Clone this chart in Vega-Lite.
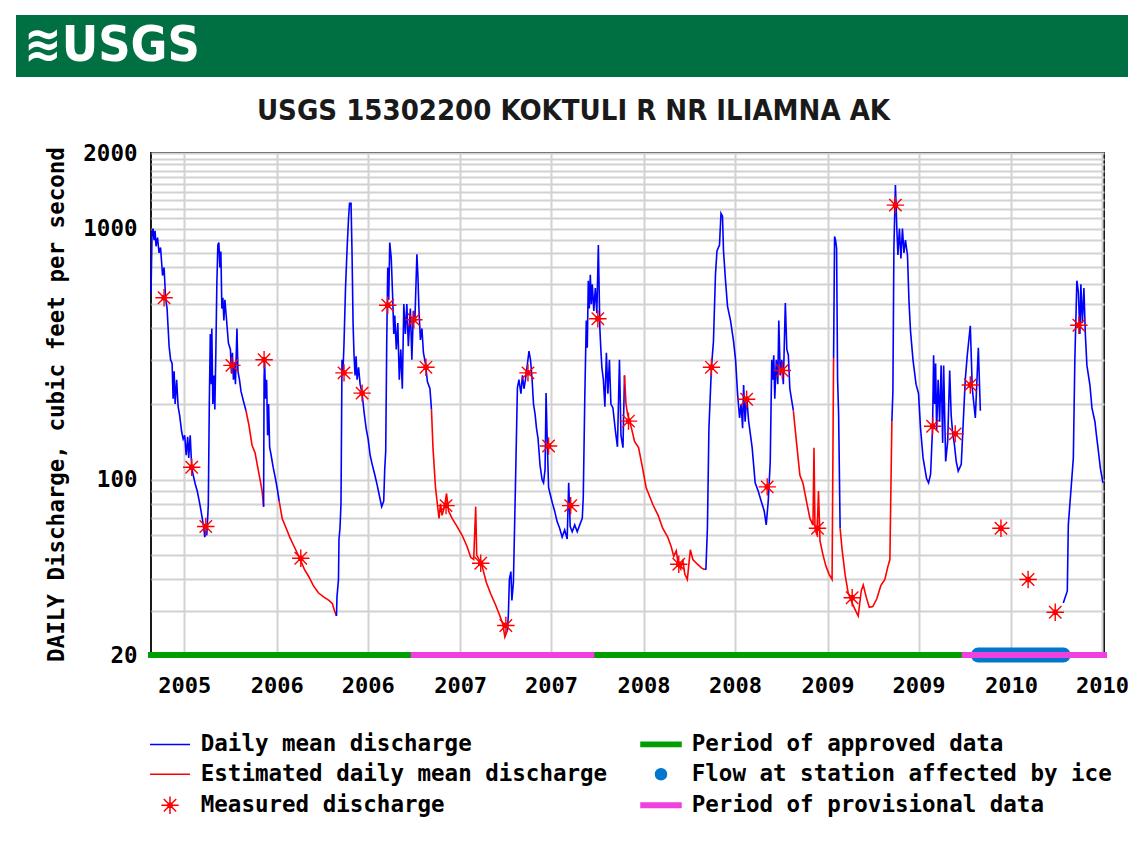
{
  "$schema": "https://vega.github.io/schema/vega-lite/v6.json",
  "padding": {"left": 16, "top": 15, "right": 0, "bottom": 0},
  "background": "#ffffff",
  "spacing": 19,
  "config": {
    "font": "DejaVu Sans Mono",
    "axis": {
      "labelFont": "DejaVu Sans Mono", "labelFontSize": 22.5, "labelFontWeight": "bold", "labelColor": "#000000",
      "titleFont": "DejaVu Sans Mono", "titleFontSize": 22.5, "titleFontWeight": "bold", "titleColor": "#000000",
      "ticks": false, "domain": false, "gridColor": "#d2d2d2", "gridWidth": 2, "gridOpacity": 1
    }
  },
  "datasets": {
    "ice": [{"start": "2009-10-28", "end": "2010-04-15", "series": "Flow at station affected by ice"}],
    "status": [
      {"start": "2005-04-26", "end": "2006-10-01", "series": "Period of approved data"},
      {"start": "2006-10-01", "end": "2007-10-01", "series": "Period of provisional data"},
      {"start": "2007-10-01", "end": "2009-10-01", "series": "Period of approved data"},
      {"start": "2009-10-01", "end": "2010-07-05", "series": "Period of provisional data"}
    ],
    "measured": [
      {"date": "2005-05-22", "cfs": 530, "series": "Measured discharge"},
      {"date": "2005-07-16", "cfs": 112, "series": "Measured discharge"},
      {"date": "2005-08-13", "cfs": 65, "series": "Measured discharge"},
      {"date": "2005-10-04", "cfs": 285, "series": "Measured discharge"},
      {"date": "2005-12-07", "cfs": 300, "series": "Measured discharge"},
      {"date": "2006-02-18", "cfs": 48.6, "series": "Measured discharge"},
      {"date": "2006-05-15", "cfs": 266, "series": "Measured discharge"},
      {"date": "2006-06-20", "cfs": 221, "series": "Measured discharge"},
      {"date": "2006-08-10", "cfs": 495, "series": "Measured discharge"},
      {"date": "2006-10-01", "cfs": 433, "series": "Measured discharge"},
      {"date": "2006-10-25", "cfs": 280, "series": "Measured discharge"},
      {"date": "2006-12-04", "cfs": 78.7, "series": "Measured discharge"},
      {"date": "2007-02-11", "cfs": 46.4, "series": "Measured discharge"},
      {"date": "2007-04-02", "cfs": 26.2, "series": "Measured discharge"},
      {"date": "2007-05-16", "cfs": 266, "series": "Measured discharge"},
      {"date": "2007-06-26", "cfs": 136, "series": "Measured discharge"},
      {"date": "2007-08-09", "cfs": 78.7, "series": "Measured discharge"},
      {"date": "2007-10-02", "cfs": 437, "series": "Measured discharge"},
      {"date": "2007-12-02", "cfs": 171, "series": "Measured discharge"},
      {"date": "2008-03-11", "cfs": 46, "series": "Measured discharge"},
      {"date": "2008-05-15", "cfs": 280, "series": "Measured discharge"},
      {"date": "2008-07-24", "cfs": 209, "series": "Measured discharge"},
      {"date": "2008-09-03", "cfs": 93.5, "series": "Measured discharge"},
      {"date": "2008-10-03", "cfs": 272, "series": "Measured discharge"},
      {"date": "2008-12-12", "cfs": 64, "series": "Measured discharge"},
      {"date": "2009-02-19", "cfs": 33.8, "series": "Measured discharge"},
      {"date": "2009-05-16", "cfs": 1240, "series": "Measured discharge"},
      {"date": "2009-07-29", "cfs": 163, "series": "Measured discharge"},
      {"date": "2009-09-12", "cfs": 152, "series": "Measured discharge"},
      {"date": "2009-10-12", "cfs": 238, "series": "Measured discharge"},
      {"date": "2009-12-12", "cfs": 64, "series": "Measured discharge"},
      {"date": "2010-02-04", "cfs": 40, "series": "Measured discharge"},
      {"date": "2010-03-30", "cfs": 29.6, "series": "Measured discharge"},
      {"date": "2010-05-16", "cfs": 412, "series": "Measured discharge"}
    ],
    "flow": [
      {"date": "2005-04-26", "cfs": 550, "series": "Daily mean discharge", "seg": 1},
      {"date": "2005-04-28", "cfs": 950, "series": "Daily mean discharge", "seg": 1},
      {"date": "2005-04-30", "cfs": 1000, "series": "Daily mean discharge", "seg": 1},
      {"date": "2005-05-02", "cfs": 900, "series": "Daily mean discharge", "seg": 1},
      {"date": "2005-05-04", "cfs": 980, "series": "Daily mean discharge", "seg": 1},
      {"date": "2005-05-06", "cfs": 850, "series": "Daily mean discharge", "seg": 1},
      {"date": "2005-05-09", "cfs": 920, "series": "Daily mean discharge", "seg": 1},
      {"date": "2005-05-12", "cfs": 800, "series": "Daily mean discharge", "seg": 1},
      {"date": "2005-05-15", "cfs": 840, "series": "Daily mean discharge", "seg": 1},
      {"date": "2005-05-19", "cfs": 650, "series": "Daily mean discharge", "seg": 1},
      {"date": "2005-05-22", "cfs": 700, "series": "Daily mean discharge", "seg": 1},
      {"date": "2005-05-25", "cfs": 530, "series": "Daily mean discharge", "seg": 1},
      {"date": "2005-05-28", "cfs": 480, "series": "Daily mean discharge", "seg": 1},
      {"date": "2005-06-01", "cfs": 340, "series": "Daily mean discharge", "seg": 1},
      {"date": "2005-06-04", "cfs": 300, "series": "Daily mean discharge", "seg": 1},
      {"date": "2005-06-07", "cfs": 290, "series": "Daily mean discharge", "seg": 1},
      {"date": "2005-06-09", "cfs": 210, "series": "Daily mean discharge", "seg": 1},
      {"date": "2005-06-11", "cfs": 270, "series": "Daily mean discharge", "seg": 1},
      {"date": "2005-06-13", "cfs": 200, "series": "Daily mean discharge", "seg": 1},
      {"date": "2005-06-16", "cfs": 250, "series": "Daily mean discharge", "seg": 1},
      {"date": "2005-06-19", "cfs": 195, "series": "Daily mean discharge", "seg": 1},
      {"date": "2005-06-22", "cfs": 180, "series": "Daily mean discharge", "seg": 1},
      {"date": "2005-06-26", "cfs": 155, "series": "Daily mean discharge", "seg": 1},
      {"date": "2005-06-29", "cfs": 145, "series": "Daily mean discharge", "seg": 1},
      {"date": "2005-07-02", "cfs": 150, "series": "Daily mean discharge", "seg": 1},
      {"date": "2005-07-05", "cfs": 125, "series": "Daily mean discharge", "seg": 1},
      {"date": "2005-07-08", "cfs": 148, "series": "Daily mean discharge", "seg": 1},
      {"date": "2005-07-10", "cfs": 122, "series": "Daily mean discharge", "seg": 1},
      {"date": "2005-07-13", "cfs": 150, "series": "Daily mean discharge", "seg": 1},
      {"date": "2005-07-16", "cfs": 112, "series": "Daily mean discharge", "seg": 1},
      {"date": "2005-07-19", "cfs": 104, "series": "Daily mean discharge", "seg": 1},
      {"date": "2005-07-23", "cfs": 96, "series": "Daily mean discharge", "seg": 1},
      {"date": "2005-07-27", "cfs": 90, "series": "Daily mean discharge", "seg": 1},
      {"date": "2005-07-31", "cfs": 82, "series": "Daily mean discharge", "seg": 1},
      {"date": "2005-08-03", "cfs": 76, "series": "Daily mean discharge", "seg": 1},
      {"date": "2005-08-06", "cfs": 70, "series": "Daily mean discharge", "seg": 1},
      {"date": "2005-08-09", "cfs": 64, "series": "Daily mean discharge", "seg": 1},
      {"date": "2005-08-11", "cfs": 59, "series": "Daily mean discharge", "seg": 1},
      {"date": "2005-08-13", "cfs": 62, "series": "Daily mean discharge", "seg": 1},
      {"date": "2005-08-15", "cfs": 60, "series": "Daily mean discharge", "seg": 1},
      {"date": "2005-08-18", "cfs": 79, "series": "Daily mean discharge", "seg": 1},
      {"date": "2005-08-20", "cfs": 200, "series": "Daily mean discharge", "seg": 1},
      {"date": "2005-08-22", "cfs": 380, "series": "Daily mean discharge", "seg": 1},
      {"date": "2005-08-24", "cfs": 240, "series": "Daily mean discharge", "seg": 1},
      {"date": "2005-08-25", "cfs": 400, "series": "Daily mean discharge", "seg": 1},
      {"date": "2005-08-27", "cfs": 200, "series": "Daily mean discharge", "seg": 1},
      {"date": "2005-08-29", "cfs": 260, "series": "Daily mean discharge", "seg": 1},
      {"date": "2005-08-31", "cfs": 190, "series": "Daily mean discharge", "seg": 1},
      {"date": "2005-09-02", "cfs": 320, "series": "Daily mean discharge", "seg": 1},
      {"date": "2005-09-04", "cfs": 600, "series": "Daily mean discharge", "seg": 1},
      {"date": "2005-09-06", "cfs": 860, "series": "Daily mean discharge", "seg": 1},
      {"date": "2005-09-08", "cfs": 880, "series": "Daily mean discharge", "seg": 1},
      {"date": "2005-09-10", "cfs": 700, "series": "Daily mean discharge", "seg": 1},
      {"date": "2005-09-12", "cfs": 810, "series": "Daily mean discharge", "seg": 1},
      {"date": "2005-09-14", "cfs": 480, "series": "Daily mean discharge", "seg": 1},
      {"date": "2005-09-16", "cfs": 530, "series": "Daily mean discharge", "seg": 1},
      {"date": "2005-09-18", "cfs": 430, "series": "Daily mean discharge", "seg": 1},
      {"date": "2005-09-20", "cfs": 520, "series": "Daily mean discharge", "seg": 1},
      {"date": "2005-09-23", "cfs": 440, "series": "Daily mean discharge", "seg": 1},
      {"date": "2005-09-27", "cfs": 350, "series": "Daily mean discharge", "seg": 1},
      {"date": "2005-10-01", "cfs": 330, "series": "Daily mean discharge", "seg": 1},
      {"date": "2005-10-03", "cfs": 265, "series": "Daily mean discharge", "seg": 1},
      {"date": "2005-10-05", "cfs": 320, "series": "Daily mean discharge", "seg": 1},
      {"date": "2005-10-07", "cfs": 250, "series": "Daily mean discharge", "seg": 1},
      {"date": "2005-10-09", "cfs": 290, "series": "Daily mean discharge", "seg": 1},
      {"date": "2005-10-11", "cfs": 240, "series": "Daily mean discharge", "seg": 1},
      {"date": "2005-10-14", "cfs": 400, "series": "Daily mean discharge", "seg": 1},
      {"date": "2005-10-16", "cfs": 270, "series": "Daily mean discharge", "seg": 1},
      {"date": "2005-10-19", "cfs": 250, "series": "Daily mean discharge", "seg": 1},
      {"date": "2005-10-22", "cfs": 225, "series": "Daily mean discharge", "seg": 1},
      {"date": "2005-10-27", "cfs": 205, "series": "Daily mean discharge", "seg": 1},
      {"date": "2005-11-01", "cfs": 188, "series": "Daily mean discharge", "seg": 1},

      {"date": "2005-11-01", "cfs": 188, "series": "Estimated daily mean discharge", "seg": 2},
      {"date": "2005-11-07", "cfs": 164, "series": "Estimated daily mean discharge", "seg": 2},
      {"date": "2005-11-13", "cfs": 137, "series": "Estimated daily mean discharge", "seg": 2},
      {"date": "2005-11-19", "cfs": 128, "series": "Estimated daily mean discharge", "seg": 2},
      {"date": "2005-11-25", "cfs": 110, "series": "Estimated daily mean discharge", "seg": 2},
      {"date": "2005-11-29", "cfs": 100, "series": "Estimated daily mean discharge", "seg": 2},
      {"date": "2005-12-03", "cfs": 90, "series": "Estimated daily mean discharge", "seg": 2},
      {"date": "2005-12-06", "cfs": 78, "series": "Estimated daily mean discharge", "seg": 2},

      {"date": "2005-12-06", "cfs": 78, "series": "Daily mean discharge", "seg": 3},
      {"date": "2005-12-07", "cfs": 254, "series": "Daily mean discharge", "seg": 3},
      {"date": "2005-12-08", "cfs": 300, "series": "Daily mean discharge", "seg": 3},
      {"date": "2005-12-10", "cfs": 210, "series": "Daily mean discharge", "seg": 3},
      {"date": "2005-12-12", "cfs": 250, "series": "Daily mean discharge", "seg": 3},
      {"date": "2005-12-14", "cfs": 150, "series": "Daily mean discharge", "seg": 3},
      {"date": "2005-12-16", "cfs": 200, "series": "Daily mean discharge", "seg": 3},
      {"date": "2005-12-18", "cfs": 135, "series": "Daily mean discharge", "seg": 3},
      {"date": "2005-12-21", "cfs": 125, "series": "Daily mean discharge", "seg": 3},
      {"date": "2005-12-25", "cfs": 112, "series": "Daily mean discharge", "seg": 3},
      {"date": "2005-12-30", "cfs": 100, "series": "Daily mean discharge", "seg": 3},
      {"date": "2006-01-03", "cfs": 90, "series": "Daily mean discharge", "seg": 3},
      {"date": "2006-01-06", "cfs": 82, "series": "Daily mean discharge", "seg": 3},

      {"date": "2006-01-06", "cfs": 82, "series": "Estimated daily mean discharge", "seg": 4},
      {"date": "2006-01-12", "cfs": 70, "series": "Estimated daily mean discharge", "seg": 4},
      {"date": "2006-01-20", "cfs": 64, "series": "Estimated daily mean discharge", "seg": 4},
      {"date": "2006-01-27", "cfs": 59, "series": "Estimated daily mean discharge", "seg": 4},
      {"date": "2006-02-05", "cfs": 54, "series": "Estimated daily mean discharge", "seg": 4},
      {"date": "2006-02-15", "cfs": 49, "series": "Estimated daily mean discharge", "seg": 4},
      {"date": "2006-02-25", "cfs": 44, "series": "Estimated daily mean discharge", "seg": 4},
      {"date": "2006-03-06", "cfs": 41, "series": "Estimated daily mean discharge", "seg": 4},
      {"date": "2006-03-15", "cfs": 37.8, "series": "Estimated daily mean discharge", "seg": 4},
      {"date": "2006-03-25", "cfs": 35.4, "series": "Estimated daily mean discharge", "seg": 4},
      {"date": "2006-04-05", "cfs": 34, "series": "Estimated daily mean discharge", "seg": 4},
      {"date": "2006-04-15", "cfs": 33, "series": "Estimated daily mean discharge", "seg": 4},
      {"date": "2006-04-22", "cfs": 32, "series": "Estimated daily mean discharge", "seg": 4},
      {"date": "2006-04-26", "cfs": 30, "series": "Estimated daily mean discharge", "seg": 4},
      {"date": "2006-04-30", "cfs": 28.6, "series": "Estimated daily mean discharge", "seg": 4},

      {"date": "2006-04-30", "cfs": 28.6, "series": "Daily mean discharge", "seg": 5},
      {"date": "2006-05-01", "cfs": 34, "series": "Daily mean discharge", "seg": 5},
      {"date": "2006-05-04", "cfs": 40, "series": "Daily mean discharge", "seg": 5},
      {"date": "2006-05-05", "cfs": 58, "series": "Daily mean discharge", "seg": 5},
      {"date": "2006-05-07", "cfs": 64, "series": "Daily mean discharge", "seg": 5},
      {"date": "2006-05-09", "cfs": 80, "series": "Daily mean discharge", "seg": 5},
      {"date": "2006-05-11", "cfs": 300, "series": "Daily mean discharge", "seg": 5},
      {"date": "2006-05-13", "cfs": 270, "series": "Daily mean discharge", "seg": 5},
      {"date": "2006-05-15", "cfs": 350, "series": "Daily mean discharge", "seg": 5},
      {"date": "2006-05-18", "cfs": 580, "series": "Daily mean discharge", "seg": 5},
      {"date": "2006-05-21", "cfs": 820, "series": "Daily mean discharge", "seg": 5},
      {"date": "2006-05-24", "cfs": 1100, "series": "Daily mean discharge", "seg": 5},
      {"date": "2006-05-26", "cfs": 1260, "series": "Daily mean discharge", "seg": 5},
      {"date": "2006-05-29", "cfs": 1260, "series": "Daily mean discharge", "seg": 5},
      {"date": "2006-05-31", "cfs": 790, "series": "Daily mean discharge", "seg": 5},
      {"date": "2006-06-02", "cfs": 420, "series": "Daily mean discharge", "seg": 5},
      {"date": "2006-06-04", "cfs": 310, "series": "Daily mean discharge", "seg": 5},
      {"date": "2006-06-06", "cfs": 260, "series": "Daily mean discharge", "seg": 5},
      {"date": "2006-06-08", "cfs": 310, "series": "Daily mean discharge", "seg": 5},
      {"date": "2006-06-10", "cfs": 250, "series": "Daily mean discharge", "seg": 5},
      {"date": "2006-06-13", "cfs": 280, "series": "Daily mean discharge", "seg": 5},
      {"date": "2006-06-16", "cfs": 240, "series": "Daily mean discharge", "seg": 5},
      {"date": "2006-06-20", "cfs": 220, "series": "Daily mean discharge", "seg": 5},
      {"date": "2006-06-24", "cfs": 185, "series": "Daily mean discharge", "seg": 5},
      {"date": "2006-06-28", "cfs": 160, "series": "Daily mean discharge", "seg": 5},
      {"date": "2006-07-02", "cfs": 145, "series": "Daily mean discharge", "seg": 5},
      {"date": "2006-07-06", "cfs": 125, "series": "Daily mean discharge", "seg": 5},
      {"date": "2006-07-10", "cfs": 115, "series": "Daily mean discharge", "seg": 5},
      {"date": "2006-07-15", "cfs": 105, "series": "Daily mean discharge", "seg": 5},
      {"date": "2006-07-20", "cfs": 95, "series": "Daily mean discharge", "seg": 5},
      {"date": "2006-07-25", "cfs": 85, "series": "Daily mean discharge", "seg": 5},
      {"date": "2006-07-29", "cfs": 78, "series": "Daily mean discharge", "seg": 5},
      {"date": "2006-08-02", "cfs": 82, "series": "Daily mean discharge", "seg": 5},
      {"date": "2006-08-04", "cfs": 110, "series": "Daily mean discharge", "seg": 5},
      {"date": "2006-08-06", "cfs": 130, "series": "Daily mean discharge", "seg": 5},
      {"date": "2006-08-08", "cfs": 355, "series": "Daily mean discharge", "seg": 5},
      {"date": "2006-08-10", "cfs": 700, "series": "Daily mean discharge", "seg": 5},
      {"date": "2006-08-12", "cfs": 520, "series": "Daily mean discharge", "seg": 5},
      {"date": "2006-08-14", "cfs": 880, "series": "Daily mean discharge", "seg": 5},
      {"date": "2006-08-17", "cfs": 760, "series": "Daily mean discharge", "seg": 5},
      {"date": "2006-08-20", "cfs": 520, "series": "Daily mean discharge", "seg": 5},
      {"date": "2006-08-22", "cfs": 380, "series": "Daily mean discharge", "seg": 5},
      {"date": "2006-08-24", "cfs": 450, "series": "Daily mean discharge", "seg": 5},
      {"date": "2006-08-27", "cfs": 330, "series": "Daily mean discharge", "seg": 5},
      {"date": "2006-08-30", "cfs": 420, "series": "Daily mean discharge", "seg": 5},
      {"date": "2006-09-02", "cfs": 250, "series": "Daily mean discharge", "seg": 5},
      {"date": "2006-09-05", "cfs": 330, "series": "Daily mean discharge", "seg": 5},
      {"date": "2006-09-08", "cfs": 230, "series": "Daily mean discharge", "seg": 5},
      {"date": "2006-09-11", "cfs": 500, "series": "Daily mean discharge", "seg": 5},
      {"date": "2006-09-14", "cfs": 380, "series": "Daily mean discharge", "seg": 5},
      {"date": "2006-09-17", "cfs": 500, "series": "Daily mean discharge", "seg": 5},
      {"date": "2006-09-20", "cfs": 340, "series": "Daily mean discharge", "seg": 5},
      {"date": "2006-09-24", "cfs": 480, "series": "Daily mean discharge", "seg": 5},
      {"date": "2006-09-27", "cfs": 300, "series": "Daily mean discharge", "seg": 5},
      {"date": "2006-09-30", "cfs": 470, "series": "Daily mean discharge", "seg": 5},
      {"date": "2006-10-03", "cfs": 430, "series": "Daily mean discharge", "seg": 5},
      {"date": "2006-10-07", "cfs": 790, "series": "Daily mean discharge", "seg": 5},
      {"date": "2006-10-09", "cfs": 650, "series": "Daily mean discharge", "seg": 5},
      {"date": "2006-10-11", "cfs": 480, "series": "Daily mean discharge", "seg": 5},
      {"date": "2006-10-14", "cfs": 360, "series": "Daily mean discharge", "seg": 5},
      {"date": "2006-10-17", "cfs": 400, "series": "Daily mean discharge", "seg": 5},
      {"date": "2006-10-20", "cfs": 320, "series": "Daily mean discharge", "seg": 5},
      {"date": "2006-10-24", "cfs": 290, "series": "Daily mean discharge", "seg": 5},
      {"date": "2006-10-28", "cfs": 245, "series": "Daily mean discharge", "seg": 5},
      {"date": "2006-11-02", "cfs": 230, "series": "Daily mean discharge", "seg": 5},
      {"date": "2006-11-05", "cfs": 190, "series": "Daily mean discharge", "seg": 5},

      {"date": "2006-11-05", "cfs": 190, "series": "Estimated daily mean discharge", "seg": 6},
      {"date": "2006-11-08", "cfs": 134, "series": "Estimated daily mean discharge", "seg": 6},
      {"date": "2006-11-13", "cfs": 93, "series": "Estimated daily mean discharge", "seg": 6},
      {"date": "2006-11-17", "cfs": 79, "series": "Estimated daily mean discharge", "seg": 6},
      {"date": "2006-11-20", "cfs": 70, "series": "Estimated daily mean discharge", "seg": 6},
      {"date": "2006-11-23", "cfs": 80, "series": "Estimated daily mean discharge", "seg": 6},
      {"date": "2006-11-26", "cfs": 72, "series": "Estimated daily mean discharge", "seg": 6},
      {"date": "2006-12-01", "cfs": 78, "series": "Estimated daily mean discharge", "seg": 6},
      {"date": "2006-12-05", "cfs": 88, "series": "Estimated daily mean discharge", "seg": 6},
      {"date": "2006-12-09", "cfs": 75, "series": "Estimated daily mean discharge", "seg": 6},
      {"date": "2006-12-16", "cfs": 70, "series": "Estimated daily mean discharge", "seg": 6},
      {"date": "2006-12-24", "cfs": 66, "series": "Estimated daily mean discharge", "seg": 6},
      {"date": "2007-01-05", "cfs": 60, "series": "Estimated daily mean discharge", "seg": 6},
      {"date": "2007-01-15", "cfs": 54, "series": "Estimated daily mean discharge", "seg": 6},
      {"date": "2007-01-22", "cfs": 49, "series": "Estimated daily mean discharge", "seg": 6},
      {"date": "2007-01-28", "cfs": 48, "series": "Estimated daily mean discharge", "seg": 6},
      {"date": "2007-02-01", "cfs": 78, "series": "Estimated daily mean discharge", "seg": 6},
      {"date": "2007-02-03", "cfs": 50, "series": "Estimated daily mean discharge", "seg": 6},
      {"date": "2007-02-08", "cfs": 48, "series": "Estimated daily mean discharge", "seg": 6},
      {"date": "2007-02-14", "cfs": 45, "series": "Estimated daily mean discharge", "seg": 6},
      {"date": "2007-02-22", "cfs": 39, "series": "Estimated daily mean discharge", "seg": 6},
      {"date": "2007-03-03", "cfs": 35, "series": "Estimated daily mean discharge", "seg": 6},
      {"date": "2007-03-13", "cfs": 31.5, "series": "Estimated daily mean discharge", "seg": 6},
      {"date": "2007-03-20", "cfs": 29, "series": "Estimated daily mean discharge", "seg": 6},
      {"date": "2007-03-27", "cfs": 26.5, "series": "Estimated daily mean discharge", "seg": 6},
      {"date": "2007-03-31", "cfs": 23.6, "series": "Estimated daily mean discharge", "seg": 6},
      {"date": "2007-04-05", "cfs": 25, "series": "Estimated daily mean discharge", "seg": 6},

      {"date": "2007-04-05", "cfs": 25, "series": "Daily mean discharge", "seg": 7},
      {"date": "2007-04-07", "cfs": 29, "series": "Daily mean discharge", "seg": 7},
      {"date": "2007-04-09", "cfs": 40, "series": "Daily mean discharge", "seg": 7},
      {"date": "2007-04-12", "cfs": 43, "series": "Daily mean discharge", "seg": 7},
      {"date": "2007-04-14", "cfs": 33, "series": "Daily mean discharge", "seg": 7},
      {"date": "2007-04-17", "cfs": 39, "series": "Daily mean discharge", "seg": 7},
      {"date": "2007-04-21", "cfs": 93, "series": "Daily mean discharge", "seg": 7},
      {"date": "2007-04-25", "cfs": 232, "series": "Daily mean discharge", "seg": 7},
      {"date": "2007-04-28", "cfs": 250, "series": "Daily mean discharge", "seg": 7},
      {"date": "2007-05-02", "cfs": 220, "series": "Daily mean discharge", "seg": 7},
      {"date": "2007-05-05", "cfs": 260, "series": "Daily mean discharge", "seg": 7},
      {"date": "2007-05-08", "cfs": 230, "series": "Daily mean discharge", "seg": 7},
      {"date": "2007-05-11", "cfs": 250, "series": "Daily mean discharge", "seg": 7},
      {"date": "2007-05-15", "cfs": 290, "series": "Daily mean discharge", "seg": 7},
      {"date": "2007-05-18", "cfs": 325, "series": "Daily mean discharge", "seg": 7},
      {"date": "2007-05-21", "cfs": 300, "series": "Daily mean discharge", "seg": 7},
      {"date": "2007-05-24", "cfs": 254, "series": "Daily mean discharge", "seg": 7},
      {"date": "2007-05-27", "cfs": 200, "series": "Daily mean discharge", "seg": 7},
      {"date": "2007-05-30", "cfs": 183, "series": "Daily mean discharge", "seg": 7},
      {"date": "2007-06-02", "cfs": 160, "series": "Daily mean discharge", "seg": 7},
      {"date": "2007-06-05", "cfs": 146, "series": "Daily mean discharge", "seg": 7},
      {"date": "2007-06-09", "cfs": 114, "series": "Daily mean discharge", "seg": 7},
      {"date": "2007-06-13", "cfs": 100, "series": "Daily mean discharge", "seg": 7},
      {"date": "2007-06-16", "cfs": 97, "series": "Daily mean discharge", "seg": 7},
      {"date": "2007-06-19", "cfs": 110, "series": "Daily mean discharge", "seg": 7},
      {"date": "2007-06-21", "cfs": 221, "series": "Daily mean discharge", "seg": 7},
      {"date": "2007-06-23", "cfs": 150, "series": "Daily mean discharge", "seg": 7},
      {"date": "2007-06-26", "cfs": 93, "series": "Daily mean discharge", "seg": 7},
      {"date": "2007-06-30", "cfs": 86, "series": "Daily mean discharge", "seg": 7},
      {"date": "2007-07-04", "cfs": 80, "series": "Daily mean discharge", "seg": 7},
      {"date": "2007-07-08", "cfs": 75, "series": "Daily mean discharge", "seg": 7},
      {"date": "2007-07-13", "cfs": 68, "series": "Daily mean discharge", "seg": 7},
      {"date": "2007-07-18", "cfs": 64, "series": "Daily mean discharge", "seg": 7},
      {"date": "2007-07-23", "cfs": 59, "series": "Daily mean discharge", "seg": 7},
      {"date": "2007-07-28", "cfs": 63, "series": "Daily mean discharge", "seg": 7},
      {"date": "2007-08-02", "cfs": 58, "series": "Daily mean discharge", "seg": 7},
      {"date": "2007-08-05", "cfs": 97, "series": "Daily mean discharge", "seg": 7},
      {"date": "2007-08-08", "cfs": 65, "series": "Daily mean discharge", "seg": 7},
      {"date": "2007-08-12", "cfs": 62, "series": "Daily mean discharge", "seg": 7},
      {"date": "2007-08-17", "cfs": 66, "series": "Daily mean discharge", "seg": 7},
      {"date": "2007-08-22", "cfs": 62, "series": "Daily mean discharge", "seg": 7},
      {"date": "2007-08-27", "cfs": 66, "series": "Daily mean discharge", "seg": 7},
      {"date": "2007-09-01", "cfs": 70, "series": "Daily mean discharge", "seg": 7},
      {"date": "2007-09-03", "cfs": 85, "series": "Daily mean discharge", "seg": 7},
      {"date": "2007-09-06", "cfs": 211, "series": "Daily mean discharge", "seg": 7},
      {"date": "2007-09-09", "cfs": 430, "series": "Daily mean discharge", "seg": 7},
      {"date": "2007-09-11", "cfs": 335, "series": "Daily mean discharge", "seg": 7},
      {"date": "2007-09-13", "cfs": 620, "series": "Daily mean discharge", "seg": 7},
      {"date": "2007-09-15", "cfs": 480, "series": "Daily mean discharge", "seg": 7},
      {"date": "2007-09-17", "cfs": 655, "series": "Daily mean discharge", "seg": 7},
      {"date": "2007-09-19", "cfs": 500, "series": "Daily mean discharge", "seg": 7},
      {"date": "2007-09-21", "cfs": 600, "series": "Daily mean discharge", "seg": 7},
      {"date": "2007-09-24", "cfs": 470, "series": "Daily mean discharge", "seg": 7},
      {"date": "2007-09-27", "cfs": 580, "series": "Daily mean discharge", "seg": 7},
      {"date": "2007-09-30", "cfs": 460, "series": "Daily mean discharge", "seg": 7},
      {"date": "2007-10-03", "cfs": 860, "series": "Daily mean discharge", "seg": 7},
      {"date": "2007-10-06", "cfs": 400, "series": "Daily mean discharge", "seg": 7},
      {"date": "2007-10-08", "cfs": 330, "series": "Daily mean discharge", "seg": 7},
      {"date": "2007-10-10", "cfs": 280, "series": "Daily mean discharge", "seg": 7},
      {"date": "2007-10-13", "cfs": 250, "series": "Daily mean discharge", "seg": 7},
      {"date": "2007-10-16", "cfs": 195, "series": "Daily mean discharge", "seg": 7},
      {"date": "2007-10-19", "cfs": 320, "series": "Daily mean discharge", "seg": 7},
      {"date": "2007-10-22", "cfs": 220, "series": "Daily mean discharge", "seg": 7},
      {"date": "2007-10-25", "cfs": 300, "series": "Daily mean discharge", "seg": 7},
      {"date": "2007-10-28", "cfs": 200, "series": "Daily mean discharge", "seg": 7},
      {"date": "2007-11-01", "cfs": 193, "series": "Daily mean discharge", "seg": 7},
      {"date": "2007-11-06", "cfs": 156, "series": "Daily mean discharge", "seg": 7},
      {"date": "2007-11-10", "cfs": 135, "series": "Daily mean discharge", "seg": 7},
      {"date": "2007-11-14", "cfs": 300, "series": "Daily mean discharge", "seg": 7},
      {"date": "2007-11-17", "cfs": 150, "series": "Daily mean discharge", "seg": 7},
      {"date": "2007-11-21", "cfs": 134, "series": "Daily mean discharge", "seg": 7},
      {"date": "2007-11-24", "cfs": 260, "series": "Daily mean discharge", "seg": 7},

      {"date": "2007-11-24", "cfs": 260, "series": "Estimated daily mean discharge", "seg": 8},
      {"date": "2007-11-27", "cfs": 200, "series": "Estimated daily mean discharge", "seg": 8},
      {"date": "2007-11-30", "cfs": 183, "series": "Estimated daily mean discharge", "seg": 8},
      {"date": "2007-12-04", "cfs": 171, "series": "Estimated daily mean discharge", "seg": 8},
      {"date": "2007-12-08", "cfs": 160, "series": "Estimated daily mean discharge", "seg": 8},
      {"date": "2007-12-14", "cfs": 142, "series": "Estimated daily mean discharge", "seg": 8},
      {"date": "2007-12-22", "cfs": 134, "series": "Estimated daily mean discharge", "seg": 8},
      {"date": "2007-12-30", "cfs": 111, "series": "Estimated daily mean discharge", "seg": 8},
      {"date": "2008-01-06", "cfs": 93, "series": "Estimated daily mean discharge", "seg": 8},
      {"date": "2008-01-20", "cfs": 79, "series": "Estimated daily mean discharge", "seg": 8},
      {"date": "2008-01-30", "cfs": 72, "series": "Estimated daily mean discharge", "seg": 8},
      {"date": "2008-02-08", "cfs": 64, "series": "Estimated daily mean discharge", "seg": 8},
      {"date": "2008-02-18", "cfs": 59, "series": "Estimated daily mean discharge", "seg": 8},
      {"date": "2008-02-25", "cfs": 54, "series": "Estimated daily mean discharge", "seg": 8},
      {"date": "2008-03-01", "cfs": 49.4, "series": "Estimated daily mean discharge", "seg": 8},
      {"date": "2008-03-06", "cfs": 52, "series": "Estimated daily mean discharge", "seg": 8},
      {"date": "2008-03-10", "cfs": 46, "series": "Estimated daily mean discharge", "seg": 8},
      {"date": "2008-03-15", "cfs": 44, "series": "Estimated daily mean discharge", "seg": 8},
      {"date": "2008-03-19", "cfs": 48, "series": "Estimated daily mean discharge", "seg": 8},
      {"date": "2008-03-23", "cfs": 42, "series": "Estimated daily mean discharge", "seg": 8},
      {"date": "2008-03-28", "cfs": 40, "series": "Estimated daily mean discharge", "seg": 8},
      {"date": "2008-04-03", "cfs": 52.5, "series": "Estimated daily mean discharge", "seg": 8},
      {"date": "2008-04-08", "cfs": 48, "series": "Estimated daily mean discharge", "seg": 8},
      {"date": "2008-04-17", "cfs": 46, "series": "Estimated daily mean discharge", "seg": 8},
      {"date": "2008-04-25", "cfs": 44.5, "series": "Estimated daily mean discharge", "seg": 8},
      {"date": "2008-05-01", "cfs": 43.8, "series": "Estimated daily mean discharge", "seg": 8},

      {"date": "2008-05-01", "cfs": 43.8, "series": "Daily mean discharge", "seg": 9},
      {"date": "2008-05-04", "cfs": 44, "series": "Daily mean discharge", "seg": 9},
      {"date": "2008-05-07", "cfs": 64, "series": "Daily mean discharge", "seg": 9},
      {"date": "2008-05-10", "cfs": 160, "series": "Daily mean discharge", "seg": 9},
      {"date": "2008-05-15", "cfs": 280, "series": "Daily mean discharge", "seg": 9},
      {"date": "2008-05-19", "cfs": 355, "series": "Daily mean discharge", "seg": 9},
      {"date": "2008-05-23", "cfs": 655, "series": "Daily mean discharge", "seg": 9},
      {"date": "2008-05-26", "cfs": 815, "series": "Daily mean discharge", "seg": 9},
      {"date": "2008-05-31", "cfs": 860, "series": "Daily mean discharge", "seg": 9},
      {"date": "2008-06-03", "cfs": 1150, "series": "Daily mean discharge", "seg": 9},
      {"date": "2008-06-06", "cfs": 1120, "series": "Daily mean discharge", "seg": 9},
      {"date": "2008-06-08", "cfs": 815, "series": "Daily mean discharge", "seg": 9},
      {"date": "2008-06-12", "cfs": 620, "series": "Daily mean discharge", "seg": 9},
      {"date": "2008-06-16", "cfs": 490, "series": "Daily mean discharge", "seg": 9},
      {"date": "2008-06-22", "cfs": 430, "series": "Daily mean discharge", "seg": 9},
      {"date": "2008-06-28", "cfs": 355, "series": "Daily mean discharge", "seg": 9},
      {"date": "2008-07-02", "cfs": 300, "series": "Daily mean discharge", "seg": 9},
      {"date": "2008-07-06", "cfs": 220, "series": "Daily mean discharge", "seg": 9},
      {"date": "2008-07-10", "cfs": 176, "series": "Daily mean discharge", "seg": 9},
      {"date": "2008-07-13", "cfs": 200, "series": "Daily mean discharge", "seg": 9},
      {"date": "2008-07-16", "cfs": 160, "series": "Daily mean discharge", "seg": 9},
      {"date": "2008-07-18", "cfs": 238, "series": "Daily mean discharge", "seg": 9},
      {"date": "2008-07-21", "cfs": 170, "series": "Daily mean discharge", "seg": 9},
      {"date": "2008-07-24", "cfs": 215, "series": "Daily mean discharge", "seg": 9},
      {"date": "2008-07-28", "cfs": 171, "series": "Daily mean discharge", "seg": 9},
      {"date": "2008-08-04", "cfs": 134, "series": "Daily mean discharge", "seg": 9},
      {"date": "2008-08-10", "cfs": 97, "series": "Daily mean discharge", "seg": 9},
      {"date": "2008-08-16", "cfs": 90, "series": "Daily mean discharge", "seg": 9},
      {"date": "2008-08-22", "cfs": 82, "series": "Daily mean discharge", "seg": 9},
      {"date": "2008-08-28", "cfs": 75, "series": "Daily mean discharge", "seg": 9},
      {"date": "2008-09-01", "cfs": 66, "series": "Daily mean discharge", "seg": 9},
      {"date": "2008-09-05", "cfs": 82, "series": "Daily mean discharge", "seg": 9},
      {"date": "2008-09-09", "cfs": 118, "series": "Daily mean discharge", "seg": 9},
      {"date": "2008-09-12", "cfs": 300, "series": "Daily mean discharge", "seg": 9},
      {"date": "2008-09-14", "cfs": 250, "series": "Daily mean discharge", "seg": 9},
      {"date": "2008-09-16", "cfs": 313, "series": "Daily mean discharge", "seg": 9},
      {"date": "2008-09-18", "cfs": 210, "series": "Daily mean discharge", "seg": 9},
      {"date": "2008-09-21", "cfs": 300, "series": "Daily mean discharge", "seg": 9},
      {"date": "2008-09-24", "cfs": 240, "series": "Daily mean discharge", "seg": 9},
      {"date": "2008-09-26", "cfs": 430, "series": "Daily mean discharge", "seg": 9},
      {"date": "2008-09-29", "cfs": 260, "series": "Daily mean discharge", "seg": 9},
      {"date": "2008-10-02", "cfs": 300, "series": "Daily mean discharge", "seg": 9},
      {"date": "2008-10-05", "cfs": 240, "series": "Daily mean discharge", "seg": 9},
      {"date": "2008-10-09", "cfs": 505, "series": "Daily mean discharge", "seg": 9},
      {"date": "2008-10-12", "cfs": 330, "series": "Daily mean discharge", "seg": 9},
      {"date": "2008-10-15", "cfs": 313, "series": "Daily mean discharge", "seg": 9},
      {"date": "2008-10-18", "cfs": 230, "series": "Daily mean discharge", "seg": 9},
      {"date": "2008-10-22", "cfs": 205, "series": "Daily mean discharge", "seg": 9},
      {"date": "2008-10-25", "cfs": 188, "series": "Daily mean discharge", "seg": 9},

      {"date": "2008-10-25", "cfs": 188, "series": "Estimated daily mean discharge", "seg": 10},
      {"date": "2008-10-31", "cfs": 142, "series": "Estimated daily mean discharge", "seg": 10},
      {"date": "2008-11-07", "cfs": 104, "series": "Estimated daily mean discharge", "seg": 10},
      {"date": "2008-11-13", "cfs": 97, "series": "Estimated daily mean discharge", "seg": 10},
      {"date": "2008-11-20", "cfs": 82, "series": "Estimated daily mean discharge", "seg": 10},
      {"date": "2008-11-27", "cfs": 70, "series": "Estimated daily mean discharge", "seg": 10},
      {"date": "2008-12-03", "cfs": 66, "series": "Estimated daily mean discharge", "seg": 10},
      {"date": "2008-12-05", "cfs": 134, "series": "Estimated daily mean discharge", "seg": 10},
      {"date": "2008-12-07", "cfs": 64, "series": "Estimated daily mean discharge", "seg": 10},
      {"date": "2008-12-11", "cfs": 60, "series": "Estimated daily mean discharge", "seg": 10},
      {"date": "2008-12-14", "cfs": 90, "series": "Estimated daily mean discharge", "seg": 10},
      {"date": "2008-12-17", "cfs": 57, "series": "Estimated daily mean discharge", "seg": 10},
      {"date": "2008-12-23", "cfs": 50, "series": "Estimated daily mean discharge", "seg": 10},
      {"date": "2008-12-29", "cfs": 45, "series": "Estimated daily mean discharge", "seg": 10},
      {"date": "2009-01-04", "cfs": 42, "series": "Estimated daily mean discharge", "seg": 10},
      {"date": "2009-01-10", "cfs": 40, "series": "Estimated daily mean discharge", "seg": 10},
      {"date": "2009-01-13", "cfs": 305, "series": "Estimated daily mean discharge", "seg": 10},

      {"date": "2009-01-13", "cfs": 305, "series": "Daily mean discharge", "seg": 11},
      {"date": "2009-01-15", "cfs": 930, "series": "Daily mean discharge", "seg": 11},
      {"date": "2009-01-17", "cfs": 900, "series": "Daily mean discharge", "seg": 11},
      {"date": "2009-01-19", "cfs": 835, "series": "Daily mean discharge", "seg": 11},
      {"date": "2009-01-21", "cfs": 250, "series": "Daily mean discharge", "seg": 11},
      {"date": "2009-01-23", "cfs": 183, "series": "Daily mean discharge", "seg": 11},
      {"date": "2009-01-26", "cfs": 64, "series": "Daily mean discharge", "seg": 11},

      {"date": "2009-01-26", "cfs": 64, "series": "Estimated daily mean discharge", "seg": 12},
      {"date": "2009-01-30", "cfs": 52.5, "series": "Estimated daily mean discharge", "seg": 12},
      {"date": "2009-02-05", "cfs": 41.7, "series": "Estimated daily mean discharge", "seg": 12},
      {"date": "2009-02-11", "cfs": 35.4, "series": "Estimated daily mean discharge", "seg": 12},
      {"date": "2009-02-19", "cfs": 32.2, "series": "Estimated daily mean discharge", "seg": 12},
      {"date": "2009-02-26", "cfs": 30, "series": "Estimated daily mean discharge", "seg": 12},
      {"date": "2009-03-03", "cfs": 28.6, "series": "Estimated daily mean discharge", "seg": 12},
      {"date": "2009-03-09", "cfs": 36, "series": "Estimated daily mean discharge", "seg": 12},
      {"date": "2009-03-13", "cfs": 38, "series": "Estimated daily mean discharge", "seg": 12},
      {"date": "2009-03-19", "cfs": 34, "series": "Estimated daily mean discharge", "seg": 12},
      {"date": "2009-03-25", "cfs": 31, "series": "Estimated daily mean discharge", "seg": 12},
      {"date": "2009-04-01", "cfs": 31.2, "series": "Estimated daily mean discharge", "seg": 12},
      {"date": "2009-04-09", "cfs": 33.5, "series": "Estimated daily mean discharge", "seg": 12},
      {"date": "2009-04-17", "cfs": 37.8, "series": "Estimated daily mean discharge", "seg": 12},
      {"date": "2009-04-25", "cfs": 40, "series": "Estimated daily mean discharge", "seg": 12},
      {"date": "2009-05-01", "cfs": 45, "series": "Estimated daily mean discharge", "seg": 12},
      {"date": "2009-05-05", "cfs": 48, "series": "Estimated daily mean discharge", "seg": 12},
      {"date": "2009-05-09", "cfs": 171, "series": "Estimated daily mean discharge", "seg": 12},

      {"date": "2009-05-09", "cfs": 171, "series": "Daily mean discharge", "seg": 13},
      {"date": "2009-05-11", "cfs": 223, "series": "Daily mean discharge", "seg": 13},
      {"date": "2009-05-13", "cfs": 835, "series": "Daily mean discharge", "seg": 13},
      {"date": "2009-05-16", "cfs": 1490, "series": "Daily mean discharge", "seg": 13},
      {"date": "2009-05-19", "cfs": 980, "series": "Daily mean discharge", "seg": 13},
      {"date": "2009-05-21", "cfs": 785, "series": "Daily mean discharge", "seg": 13},
      {"date": "2009-05-24", "cfs": 1000, "series": "Daily mean discharge", "seg": 13},
      {"date": "2009-05-27", "cfs": 760, "series": "Daily mean discharge", "seg": 13},
      {"date": "2009-05-30", "cfs": 1000, "series": "Daily mean discharge", "seg": 13},
      {"date": "2009-06-02", "cfs": 800, "series": "Daily mean discharge", "seg": 13},
      {"date": "2009-06-05", "cfs": 900, "series": "Daily mean discharge", "seg": 13},
      {"date": "2009-06-09", "cfs": 785, "series": "Daily mean discharge", "seg": 13},
      {"date": "2009-06-12", "cfs": 515, "series": "Daily mean discharge", "seg": 13},
      {"date": "2009-06-15", "cfs": 392, "series": "Daily mean discharge", "seg": 13},
      {"date": "2009-06-20", "cfs": 300, "series": "Daily mean discharge", "seg": 13},
      {"date": "2009-06-26", "cfs": 240, "series": "Daily mean discharge", "seg": 13},
      {"date": "2009-07-01", "cfs": 220, "series": "Daily mean discharge", "seg": 13},
      {"date": "2009-07-05", "cfs": 160, "series": "Daily mean discharge", "seg": 13},
      {"date": "2009-07-10", "cfs": 122, "series": "Daily mean discharge", "seg": 13},
      {"date": "2009-07-17", "cfs": 101, "series": "Daily mean discharge", "seg": 13},
      {"date": "2009-07-21", "cfs": 97, "series": "Daily mean discharge", "seg": 13},
      {"date": "2009-07-25", "cfs": 105, "series": "Daily mean discharge", "seg": 13},
      {"date": "2009-07-29", "cfs": 163, "series": "Daily mean discharge", "seg": 13},
      {"date": "2009-07-31", "cfs": 313, "series": "Daily mean discharge", "seg": 13},
      {"date": "2009-08-02", "cfs": 200, "series": "Daily mean discharge", "seg": 13},
      {"date": "2009-08-04", "cfs": 290, "series": "Daily mean discharge", "seg": 13},
      {"date": "2009-08-06", "cfs": 156, "series": "Daily mean discharge", "seg": 13},
      {"date": "2009-08-09", "cfs": 250, "series": "Daily mean discharge", "seg": 13},
      {"date": "2009-08-12", "cfs": 170, "series": "Daily mean discharge", "seg": 13},
      {"date": "2009-08-15", "cfs": 285, "series": "Daily mean discharge", "seg": 13},
      {"date": "2009-08-18", "cfs": 140, "series": "Daily mean discharge", "seg": 13},
      {"date": "2009-08-20", "cfs": 285, "series": "Daily mean discharge", "seg": 13},
      {"date": "2009-08-24", "cfs": 118, "series": "Daily mean discharge", "seg": 13},
      {"date": "2009-08-28", "cfs": 142, "series": "Daily mean discharge", "seg": 13},
      {"date": "2009-09-01", "cfs": 272, "series": "Daily mean discharge", "seg": 13},
      {"date": "2009-09-04", "cfs": 180, "series": "Daily mean discharge", "seg": 13},
      {"date": "2009-09-07", "cfs": 152, "series": "Daily mean discharge", "seg": 13},
      {"date": "2009-09-10", "cfs": 140, "series": "Daily mean discharge", "seg": 13},
      {"date": "2009-09-14", "cfs": 118, "series": "Daily mean discharge", "seg": 13},
      {"date": "2009-09-18", "cfs": 108, "series": "Daily mean discharge", "seg": 13},
      {"date": "2009-09-24", "cfs": 115, "series": "Daily mean discharge", "seg": 13},
      {"date": "2009-10-02", "cfs": 250, "series": "Daily mean discharge", "seg": 13},
      {"date": "2009-10-06", "cfs": 313, "series": "Daily mean discharge", "seg": 13},
      {"date": "2009-10-12", "cfs": 410, "series": "Daily mean discharge", "seg": 13},
      {"date": "2009-10-16", "cfs": 230, "series": "Daily mean discharge", "seg": 13},
      {"date": "2009-10-22", "cfs": 176, "series": "Daily mean discharge", "seg": 13},
      {"date": "2009-10-28", "cfs": 335, "series": "Daily mean discharge", "seg": 13},
      {"date": "2009-11-01", "cfs": 188, "series": "Daily mean discharge", "seg": 13},

      {"date": "2010-04-15", "cfs": 32.2, "series": "Daily mean discharge", "seg": 14},
      {"date": "2010-04-23", "cfs": 36, "series": "Daily mean discharge", "seg": 14},
      {"date": "2010-04-25", "cfs": 66, "series": "Daily mean discharge", "seg": 14},
      {"date": "2010-05-02", "cfs": 101, "series": "Daily mean discharge", "seg": 14},
      {"date": "2010-05-05", "cfs": 122, "series": "Daily mean discharge", "seg": 14},
      {"date": "2010-05-08", "cfs": 300, "series": "Daily mean discharge", "seg": 14},
      {"date": "2010-05-12", "cfs": 620, "series": "Daily mean discharge", "seg": 14},
      {"date": "2010-05-15", "cfs": 560, "series": "Daily mean discharge", "seg": 14},
      {"date": "2010-05-18", "cfs": 380, "series": "Daily mean discharge", "seg": 14},
      {"date": "2010-05-20", "cfs": 600, "series": "Daily mean discharge", "seg": 14},
      {"date": "2010-05-23", "cfs": 420, "series": "Daily mean discharge", "seg": 14},
      {"date": "2010-05-26", "cfs": 580, "series": "Daily mean discharge", "seg": 14},
      {"date": "2010-05-29", "cfs": 375, "series": "Daily mean discharge", "seg": 14},
      {"date": "2010-06-01", "cfs": 285, "series": "Daily mean discharge", "seg": 14},
      {"date": "2010-06-07", "cfs": 238, "series": "Daily mean discharge", "seg": 14},
      {"date": "2010-06-11", "cfs": 193, "series": "Daily mean discharge", "seg": 14},
      {"date": "2010-06-17", "cfs": 170, "series": "Daily mean discharge", "seg": 14},
      {"date": "2010-06-20", "cfs": 150, "series": "Daily mean discharge", "seg": 14},
      {"date": "2010-06-23", "cfs": 134, "series": "Daily mean discharge", "seg": 14},
      {"date": "2010-06-28", "cfs": 110, "series": "Daily mean discharge", "seg": 14},
      {"date": "2010-07-03", "cfs": 97, "series": "Daily mean discharge", "seg": 14}
    ]
  },
  "vconcat": [
    {
      "width": 1112,
      "height": 62,
      "view": {"fill": "#006F41", "stroke": null},
      "data": {"values": [{"logo": "≋USGS"}]},
      "mark": {"type": "text", "align": "left", "baseline": "middle", "dx": 8, "font": "DejaVu Sans Condensed, Liberation Sans, sans-serif", "fontWeight": "bold", "fontSize": 50, "color": "#ffffff"},
      "encoding": {
        "text": {"field": "logo", "type": "nominal"},
        "x": {"datum": 0, "type": "quantitative", "scale": {"domain": [0, 1]}, "axis": null}
      }
    },
    {
      "spacing": 27,
      "hconcat": [
        {
          "width": 1,
          "height": 1,
          "view": {"stroke": null},
          "data": {"values": []},
          "mark": "rect"
        },
        {
          "width": 953,
          "height": 502,
          "view": {"stroke": "#1a1a1a", "strokeWidth": 2},
          "title": {
            "text": "USGS 15302200 KOKTULI R NR ILIAMNA AK",
            "font": "DejaVu Sans Condensed, Liberation Sans, sans-serif",
            "fontSize": 29,
            "fontWeight": "bold",
            "color": "#1a1a1a",
            "anchor": "middle",
            "dx": -54,
            "offset": -7,
            "baseline": "alphabetic"
          },
          "layer": [
            {
              "data": {"name": "ice"},
              "mark": {"type": "rule", "strokeWidth": 15, "strokeCap": "round"},
              "encoding": {
                "x": {"field": "start", "type": "temporal"},
                "x2": {"field": "end"},
                "y": {"datum": 20, "type": "quantitative"},
                "color": {"field": "series", "type": "nominal"}
              }
            },
            {
              "data": {"name": "status"},
              "mark": {"type": "rule", "strokeWidth": 6, "strokeCap": "square"},
              "encoding": {
                "x": {"field": "start", "type": "temporal"},
                "x2": {"field": "end"},
                "y": {"datum": 20, "type": "quantitative"},
                "color": {"field": "series", "type": "nominal"}
              }
            },
            {
              "data": {"name": "flow"},
              "mark": {"type": "line", "strokeWidth": 1.6},
              "encoding": {
                "x": {
                  "field": "date",
                  "type": "temporal",
                  "scale": {"type": "utc", "nice": false, "domain": [{"year": 2005, "month": 4, "date": 26, "utc": true}, {"year": 2010, "month": 7, "date": 5, "utc": true}]},
                  "axis": {
                    "values": [
                      {"year": 2005, "month": 7, "date": 1, "utc": true},
                      {"year": 2006, "month": 1, "date": 1, "utc": true},
                      {"year": 2006, "month": 7, "date": 1, "utc": true},
                      {"year": 2007, "month": 1, "date": 1, "utc": true},
                      {"year": 2007, "month": 7, "date": 1, "utc": true},
                      {"year": 2008, "month": 1, "date": 1, "utc": true},
                      {"year": 2008, "month": 7, "date": 1, "utc": true},
                      {"year": 2009, "month": 1, "date": 1, "utc": true},
                      {"year": 2009, "month": 7, "date": 1, "utc": true},
                      {"year": 2010, "month": 1, "date": 1, "utc": true},
                      {"year": 2010, "month": 7, "date": 1, "utc": true}
                    ],
                    "format": "%Y",
                    "labelFontSize": 22,
                    "labelPadding": 20,
                    "labelAngle": 0,
                    "labelOverlap": false,
                    "labelFlush": false,
                    "grid": true,
                    "title": null
                  }
                },
                "y": {
                  "field": "cfs",
                  "type": "quantitative",
                  "scale": {"type": "log", "domain": [20, 2000], "nice": false},
                  "axis": {
                    "values": [20, 30, 40, 50, 60, 70, 80, 90, 100, 200, 300, 400, 500, 600, 700, 800, 900, 1000, 1100, 1200, 1300, 1400, 1500, 1600, 1700, 1800, 1900, 2000],
                    "format": "d",
                    "labelExpr": "indexof([20, 100, 1000, 2000], datum.value) >= 0 ? datum.label : ''",
                    "labelOverlap": false,
                    "labelFlush": false,
                    "labelPadding": 14,
                    "grid": true,
                    "title": "DAILY Discharge, cubic feet per second",
                    "titlePadding": 14
                  }
                },
                "color": {
                  "field": "series",
                  "type": "nominal",
                  "scale": {
                    "domain": ["Daily mean discharge", "Estimated daily mean discharge", "Measured discharge", "Period of approved data", "Flow at station affected by ice", "Period of provisional data"],
                    "range": ["#0000FF", "#FF0000", "#FF0000", "#009E00", "#0077CC", "#F040E0"]
                  },
                  "legend": {
                    "orient": "none",
                    "legendX": 134,
                    "legendY": 718,
                    "columns": 2,
                    "title": null,
                    "labelFont": "DejaVu Sans Mono",
                    "labelFontSize": 22.5,
                    "labelFontWeight": "bold",
                    "labelColor": "#000000",
                    "labelLimit": 0,
                    "symbolSize": 400,
                    "symbolStrokeWidth": 1.5,
                    "symbolOffset": 8.75,
                    "labelOffset": 19.5,
                    "rowPadding": 7,
                    "columnPadding": 30,
                    "encode": {
                      "symbols": {
                        "update": {
                          "shape": {"signal": "datum.value === 'Measured discharge' ? 'M-0.87,0L0.87,0M0,-0.87L0,0.87M-0.62,-0.62L0.62,0.62M-0.62,0.62L0.62,-0.62M-0.2,-0.2L0.2,-0.2L0.2,0.2L-0.2,0.2Z' : datum.value === 'Flow at station affected by ice' ? 'M-0.55,0A0.55,0.55,0,1,0,0.55,0A0.55,0.55,0,1,0,-0.55,0Z' : indexof(['Period of approved data', 'Period of provisional data'], datum.value) >= 0 ? 'M-2,-0.22L2,-0.22L2,0.22L-2,0.22Z' : 'M-2,0L2,0'"},
                          "fill": {"scale": "color", "field": "value"},
                          "stroke": {"scale": "color", "field": "value"},
                          "strokeWidth": {"value": 1.5},
                          "opacity": {"value": 1}
                        }
                      }
                    }
                  }
                },
                "detail": {"field": "seg", "type": "nominal"}
              }
            },
            {
              "data": {"name": "measured"},
              "mark": {"type": "point", "shape": "M-0.87,0L0.87,0M0,-0.87L0,0.87M-0.62,-0.62L0.62,0.62M-0.62,0.62L0.62,-0.62M-0.2,-0.2L0.2,-0.2L0.2,0.2L-0.2,0.2Z", "size": 400, "filled": true, "stroke": "#FF0000", "strokeWidth": 1.4, "opacity": 1},
              "encoding": {
                "x": {"field": "date", "type": "temporal"},
                "y": {"field": "cfs", "type": "quantitative"},
                "color": {"field": "series", "type": "nominal"}
              }
            }
          ]
        }
      ]
    }
  ]
}
